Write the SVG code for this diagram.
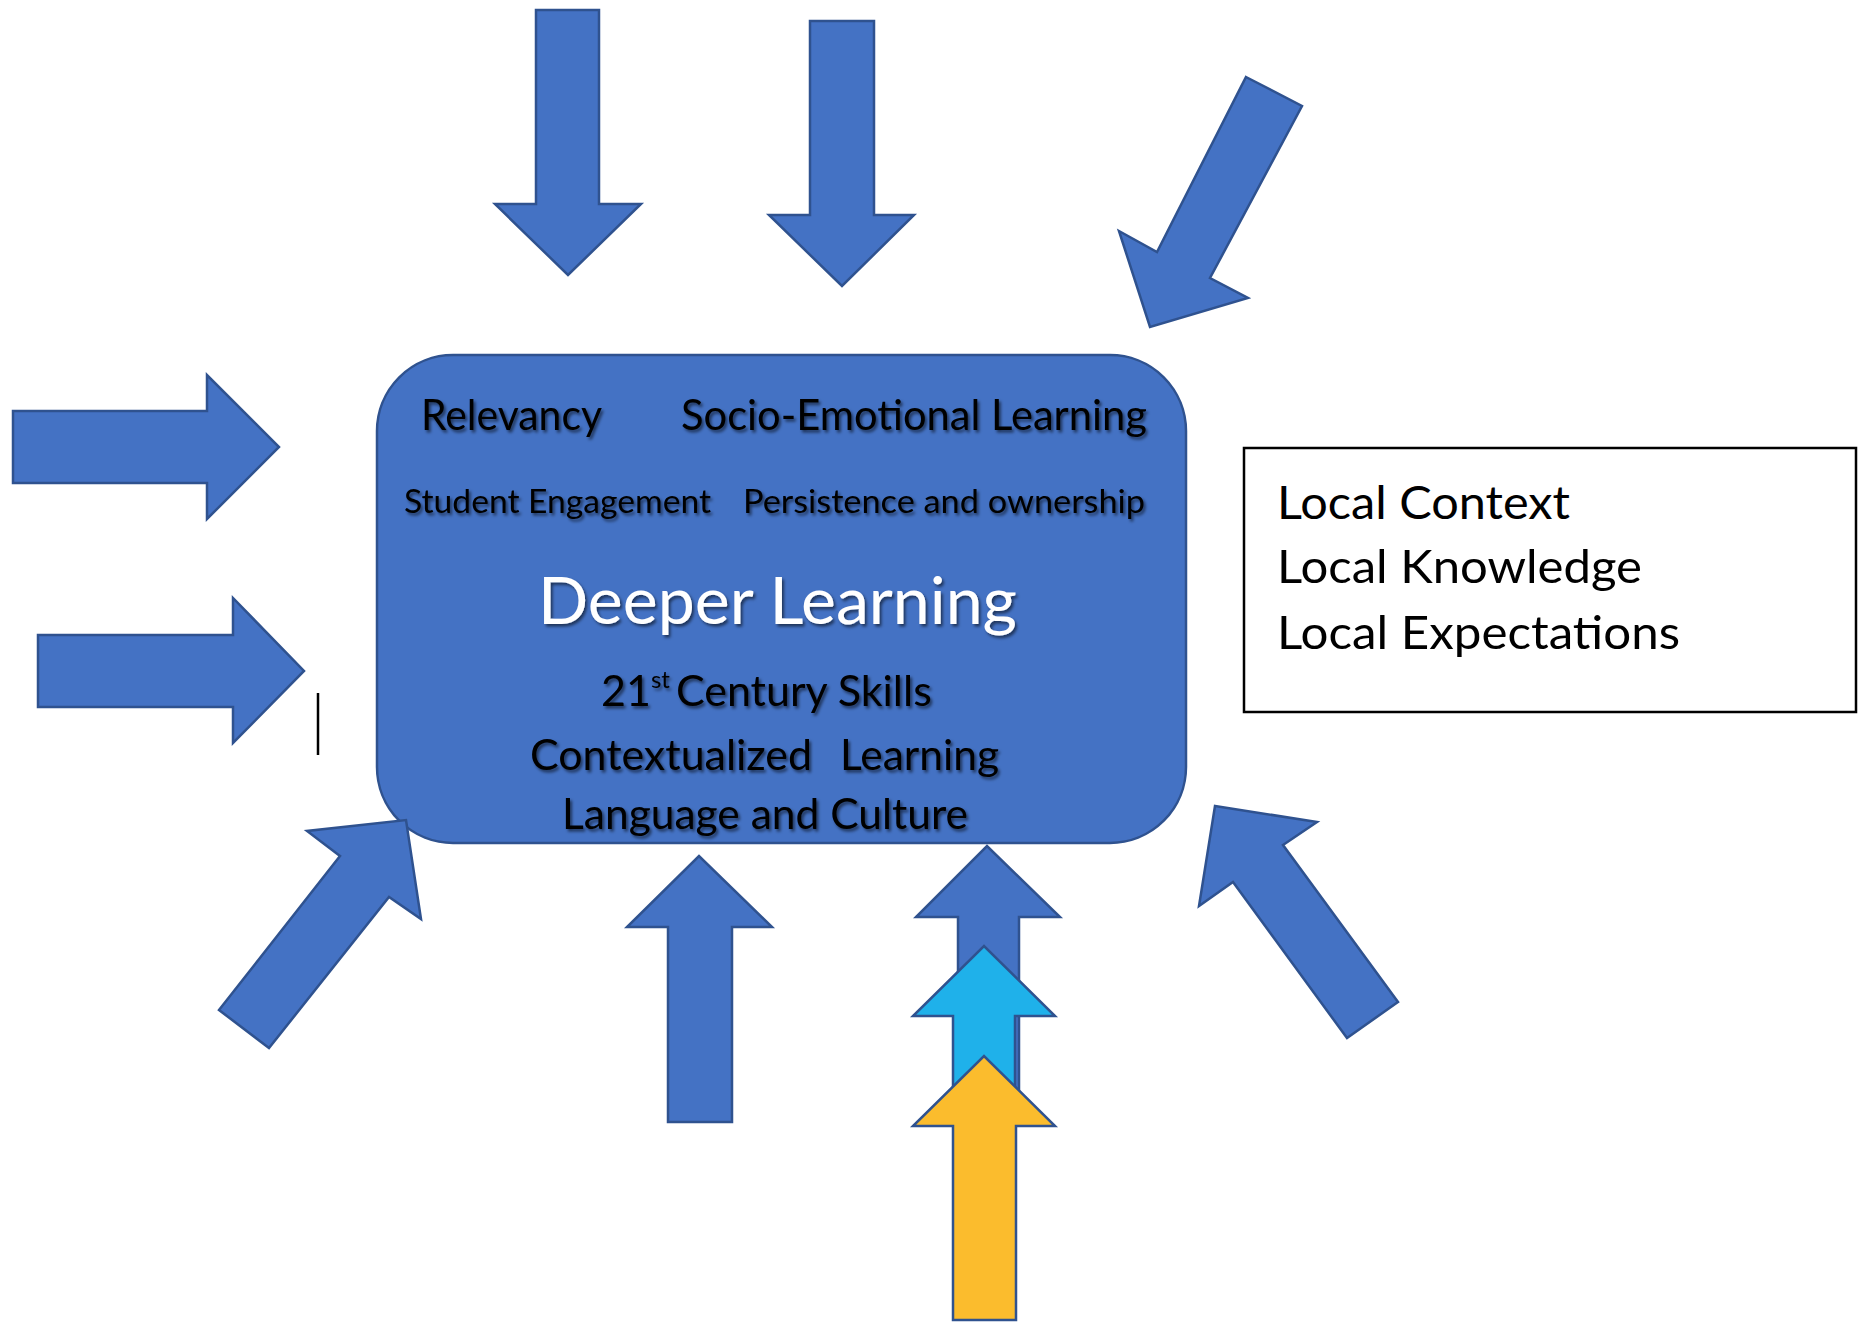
<svg xmlns="http://www.w3.org/2000/svg" width="1858" height="1326" viewBox="0 0 1858 1326">
  <defs>
    <filter id="shadow" x="-10%" y="-30%" width="120%" height="160%">
      <feDropShadow dx="2" dy="2.5" stdDeviation="1.6" flood-color="#000" flood-opacity="0.55"/>
    </filter>
  </defs>
  <style>
    .blk { fill: #4472C4; stroke: #2F528F; stroke-width: 2.5; stroke-linejoin: miter; }
    .cyan { fill: #1FB1EA; stroke: #2F528F; stroke-width: 2.5; }
    .gold { fill: #FBBC2D; stroke: #2F528F; stroke-width: 2.5; }
    .lbl { font-family: Lato, "Liberation Sans", sans-serif; fill: #000; }
    .in { filter: url(#shadow); }
  </style>

  <rect width="1858" height="1326" fill="#fff"/>

  <!-- central rounded box -->
  <g id="deeper-learning">
    <rect class="blk" x="377" y="355" width="809" height="488" rx="76" ry="76"/>
    <text class="lbl in" x="421" y="430" font-size="42" textLength="181" lengthAdjust="spacingAndGlyphs">Relevancy</text>
    <text class="lbl in" x="681" y="430" font-size="42" textLength="466" lengthAdjust="spacingAndGlyphs">Socio-Emotional Learning</text>
    <text class="lbl in" x="404" y="513" font-size="33" textLength="307" lengthAdjust="spacingAndGlyphs">Student Engagement</text>
    <text class="lbl in" x="743" y="513" font-size="33" textLength="402" lengthAdjust="spacingAndGlyphs">Persistence and ownership</text>
    <text class="lbl in" x="538" y="624" font-size="65" fill="#fff" style="fill:#fff" textLength="479" lengthAdjust="spacingAndGlyphs">Deeper Learning</text>
    <text class="lbl in" x="601" y="706" font-size="43">21<tspan font-size="24" dy="-18">st</tspan><tspan dy="18" dx="6">Century Skills</tspan></text>
    <text class="lbl in" y="770" font-size="43"><tspan x="530" textLength="282" lengthAdjust="spacingAndGlyphs">Contextualized</tspan><tspan x="840" textLength="159" lengthAdjust="spacingAndGlyphs">Learning</tspan></text>
    <text class="lbl in" x="562" y="829" font-size="43" textLength="406" lengthAdjust="spacingAndGlyphs">Language and Culture</text>
  </g>

  <!-- outlined note box on the right -->
  <g id="local-box">
    <rect x="1244" y="448" width="612" height="264" fill="#fff" stroke="#000" stroke-width="2.5"/>
    <text class="lbl" x="1277" y="519" font-size="47" textLength="293" lengthAdjust="spacingAndGlyphs">Local Context</text>
    <text class="lbl" x="1277" y="583" font-size="47" textLength="365" lengthAdjust="spacingAndGlyphs">Local Knowledge</text>
    <text class="lbl" x="1277" y="649" font-size="47" textLength="403" lengthAdjust="spacingAndGlyphs">Local Expectations</text>
  </g>

  <!-- block arrows pointing toward the central box -->
  <g id="connectors">
    <polygon id="arrow-top-1" class="blk" points="536,10 599,10 599,204 641,204 568,275 495,204 536,204"/>
    <polygon id="arrow-top-2" class="blk" points="810,21 874,21 874,215 914,215 842,286 769,215 810,215"/>
    <polygon id="arrow-top-right" class="blk" points="1246,77 1302,106 1210,278 1248,298 1150,327 1119,231 1157,252"/>
    <polygon id="arrow-left-1" class="blk" points="13,411 207,411 207,375 279,447 207,519 207,483 13,483"/>
    <polygon id="arrow-left-2" class="blk" points="38,635 233,635 233,598 304,671 233,743 233,707 38,707"/>
    <polygon id="arrow-bottom-left" class="blk" points="219,1010 340,856 307,831 406,820 421,919 389,897 269,1048"/>
    <polygon id="arrow-bottom-mid" class="blk" points="668,1122 668,927 627,927 699,856 772,927 732,927 732,1122"/>
    <polygon id="arrow-bottom-right" class="blk" points="1215,806 1317,822 1283,845 1398,1002 1347,1038 1233,882 1199,906"/>
    <!-- stacked arrows, each tucked under the next -->
    <polygon id="arrow-stack-blue" class="blk" points="958,1100 958,917 916,917 987,846 1060,917 1019,917 1019,1100"/>
    <polygon id="arrow-stack-cyan" class="cyan" points="953,1125 953,1016 913,1016 984,946 1055,1016 1015,1016 1015,1125"/>
    <polygon id="arrow-stack-gold" class="gold" points="953,1320 953,1126 913,1126 984,1056 1055,1126 1016,1126 1016,1320"/>
  </g>

  <!-- thin vertical mark left of the box -->
  <line x1="318" y1="693" x2="318" y2="755" stroke="#000" stroke-width="2.5"/>
</svg>
